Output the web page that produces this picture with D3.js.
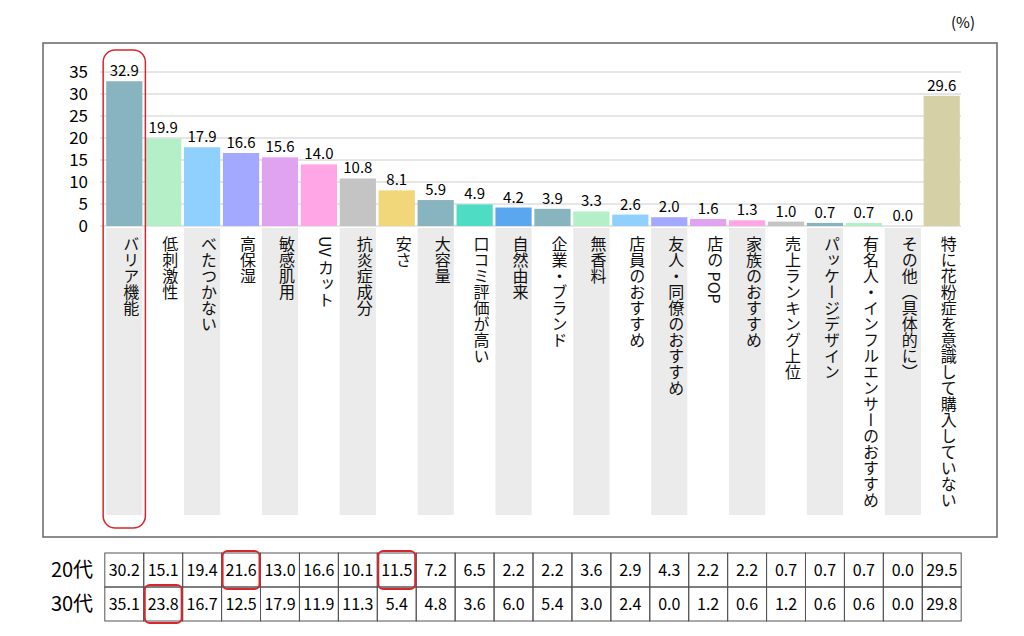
<!DOCTYPE html>
<html><head><meta charset="utf-8">
<script src="https://cdn.jsdelivr.net/npm/d3@7"></script>
<style>body{margin:0;background:#fff}text{font-family:"Noto Sans CJK JP","Noto Sans",sans-serif}</style>
</head><body>
<script>
var categories = ["バリア機能","低刺激性","べたつかない","高保湿","敏感肌用","UV カット","抗炎症成分","安さ","大容量","口コミ評価が高い","自然由来","企業・ブランド","無香料","店員のおすすめ","友人・同僚のおすすめ","店の POP","家族のおすすめ","売上ランキング上位","パッケージデザイン","有名人・インフルエンサーのおすすめ","その他（具体的に）","特に花粉症を意識して購入していない"];
var totals = [32.9,19.9,17.9,16.6,15.6,14.0,10.8,8.1,5.9,4.9,4.2,3.9,3.3,2.6,2.0,1.6,1.3,1.0,0.7,0.7,0.0,29.6];
var age20 = [30.2,15.1,19.4,21.6,13.0,16.6,10.1,11.5,7.2,6.5,2.2,2.2,3.6,2.9,4.3,2.2,2.2,0.7,0.7,0.7,0.0,29.5];
var age30 = [35.1,23.8,16.7,12.5,17.9,11.9,11.3,5.4,4.8,3.6,6.0,5.4,3.0,2.4,0.0,1.2,0.6,1.2,0.6,0.6,0.0,29.8];
var rowLabels = ["20代","30代"];
var yTicks = [0,5,10,15,20,25,30,35];
var colors = ["#88b4bf","#b4efc8","#8fd0ff","#a3a9ff","#e0a3ef","#ffa6e6","#c4c4c4","#f2d67a","#88b4bf","#4fdcc4","#5aa6ef","#88b4bf","#b4efc8","#8fd0ff","#a3a9ff","#e0a3ef","#ffa6e6","#c4c4c4","#88b4bf","#b4efc8","#c4c4c4","#d6d0a6"];
// highlighted cells: [row, column]
var highlights = [[0,3],[0,7],[1,1]];

var svg = d3.select("body").append("svg").attr("width",1024).attr("height",636);

// frame
svg.append("rect").attr("x",43).attr("y",43).attr("width",954).attr("height",494)
  .attr("fill","none").attr("stroke","#666").attr("stroke-width",1.5);
svg.append("text").attr("x",975).attr("y",28).attr("text-anchor","end").attr("font-size",15).text("(%)");

var x = d3.scaleBand().domain(d3.range(categories.length)).range([105,961]).paddingInner(0.07).paddingOuter(0.03);
var y = d3.scaleLinear().domain([0,35]).range([226,72]);

// label backgrounds on alternate columns
svg.selectAll(".bg").data(categories).enter().filter(function(d,i){return i%2===0;})
  .append("rect").attr("x",function(d){return x(categories.indexOf(d));})
  .attr("y",228).attr("width",x.bandwidth()).attr("height",287).attr("fill","#ebebeb");

// grid
svg.selectAll(".grid").data(yTicks).enter().append("line")
  .attr("x1",100).attr("x2",961).attr("y1",function(d){return y(d);}).attr("y2",function(d){return y(d);})
  .attr("stroke","#ccc");
svg.selectAll(".yt").data(yTicks).enter().append("text")
  .attr("x",88).attr("y",function(d){return y(d)+6;}).attr("text-anchor","end").attr("font-size",17).text(function(d){return d;});

// bars
svg.selectAll(".bar").data(totals).enter().append("rect")
  .attr("x",function(d,i){return x(i);}).attr("y",function(d){return y(d);})
  .attr("width",x.bandwidth()).attr("height",function(d){return y(0)-y(d);})
  .attr("fill",function(d,i){return colors[i];});
svg.selectAll(".val").data(totals).enter().append("text")
  .attr("x",function(d,i){return x(i)+x.bandwidth()/2;}).attr("y",function(d){return y(d)-5;})
  .attr("text-anchor","middle").attr("font-size",15).text(function(d){return d.toFixed(1);});

// vertical category labels
svg.selectAll(".cat").data(categories).enter().append("text")
  .attr("transform",function(d,i){return "translate("+(x(i)+x.bandwidth()/2+7)+",236)";})
  .attr("writing-mode","vertical-rl").attr("font-size",16).attr("fill","#111")
  .text(function(d){return d;});

// highlight around first column
svg.append("rect").attr("x",x(0)-3).attr("y",50).attr("width",x.bandwidth()+6).attr("height",478)
  .attr("rx",12).attr("fill","none").attr("stroke","#d9262e").attr("stroke-width",1.5);

// table
var rows = [age20, age30];
var rowTop = [553,587], rowH = 34;
rows.forEach(function(vals,r){
  svg.append("text").attr("x",72).attr("y",rowTop[r]+24).attr("text-anchor","middle").attr("font-size",20).text(rowLabels[r]);
  svg.selectAll(".cell"+r).data(vals).enter().append("rect")
    .attr("x",function(d,i){return x(i)-x.step()*x.paddingInner()/2;}).attr("y",rowTop[r])
    .attr("width",x.step()).attr("height",rowH).attr("fill","none").attr("stroke","#555");
  svg.selectAll(".cv"+r).data(vals).enter().append("text")
    .attr("x",function(d,i){return x(i)+x.bandwidth()/2;}).attr("y",rowTop[r]+23)
    .attr("text-anchor","middle").attr("font-size",16).text(function(d){return d.toFixed(1);});
});
highlights.forEach(function(h){
  svg.append("rect").attr("x",x(h[1])-x.step()*x.paddingInner()/2+1).attr("y",rowTop[h[0]]-2)
    .attr("width",x.step()-2).attr("height",rowH+4).attr("rx",5)
    .attr("fill","none").attr("stroke","#d9262e").attr("stroke-width",2);
});
</script>
</body></html>
